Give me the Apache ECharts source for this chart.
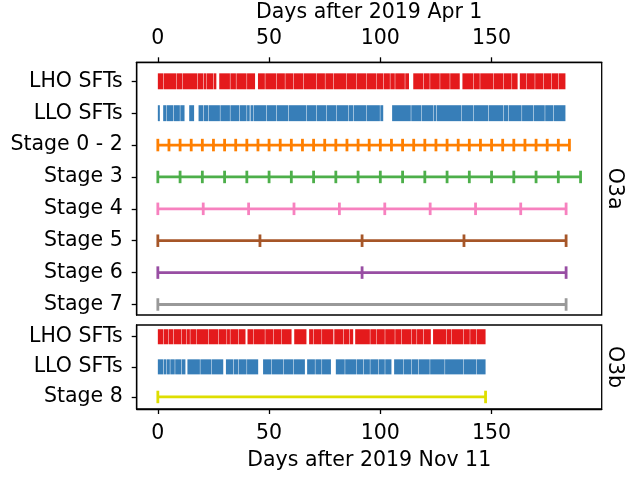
<!DOCTYPE html>
<html>
<head>
<meta charset="utf-8">
<script src="https://cdn.jsdelivr.net/npm/echarts@6/dist/echarts.min.js"></script>
<style>html,body{margin:0;padding:0;background:#fff}#c{width:625px;height:478px}</style>
</head>
<body>
<div id="c"></div>
<script>
// ---------------- data ----------------
const xTicks = [0, 50, 100, 150];
const o3aRows = ['LHO SFTs', 'LLO SFTs', 'Stage 0 - 2', 'Stage 3', 'Stage 4', 'Stage 5', 'Stage 6', 'Stage 7'];
const o3bRows = ['LHO SFTs', 'LLO SFTs', 'Stage 8'];
const xTitleTop = 'Days after 2019 Apr 1';
const xTitleBottom = 'Days after 2019 Nov 11';

// SFT coverage segments [start day, end day]
const lhoO3a = [[0,2.4],[2.6,8.4],[8.6,10.9],[11.1,17.8],[18.0,20.4],[20.6,21.9],[22.1,24.9],[25.1,26.3],[27.6,32.4],[32.6,35.1],[35.3,39.9],[40.1,43.7],[45.0,48.1],[48.3,53.3],[53.5,57.1],[57.3,60.8],[61.0,65.3],[65.5,71.3],[71.5,75.1],[75.3,78.8],[79.0,84.8],[85.0,89.3],[89.5,93.8],[94.0,98.3],[98.5,101.3],[101.5,104.3],[104.5,106.5],[106.7,111.0],[111.2,112.9],[114.8,119.3],[119.5,122.2],[122.4,126.7],[126.9,131.2],[131.4,135.7],[136.9,141.7],[141.9,144.7],[144.9,150.7],[150.9,155.2],[155.4,159.0],[159.2,161.7],[162.7,165.7],[165.9,169.4],[169.6,173.2],[173.4,176.9],[177.1,179.9],[180.1,183.2]];
const lloO3a = [[0,0.9],[2.4,3.9],[4.1,6.9],[7.1,9.9],[10.1,12.0],[14.1,16.3],[18.3,20.4],[20.6,22.6],[22.8,27.9],[28.1,32.4],[32.6,36.6],[36.8,39.9],[40.1,41.3],[41.65,42.8],[43.0,48.8],[49.0,53.3],[53.5,58.6],[58.8,66.8],[67.0,71.3],[71.5,75.8],[76.0,80.3],[80.5,85.5],[85.7,87.8],[88.0,93.8],[94.0,99.8],[100.0,101.3],[105.3,113.7],[113.9,118.5],[118.7,123.7],[123.9,125.2],[125.4,136.5],[136.7,141.7],[141.9,148.5],[148.7,155.2],[155.4,157.5],[157.7,163.5],[163.7,168.7],[168.9,173.9],[174.1,177.7],[177.9,183.2]];
const lhoO3b = [[0,2.4],[2.6,4.6],[4.8,6.9],[7.1,10.6],[10.8,12.9],[13.1,14.4],[14.6,17.4],[17.6,22.6],[22.8,27.1],[27.3,30.9],[31.1,32.4],[32.6,36.1],[36.3,39.4],[40.3,42.8],[43.0,48.1],[48.3,51.8],[52.0,55.6],[55.8,60.1],[61.3,66.8],[68.0,69.8],[70.0,73.6],[73.8,78.9],[79.3,83.3],[83.5,86.0],[86.2,87.8],[88.7,95.3],[95.5,98.3],[98.5,102.0],[102.2,106.5],[106.7,109.5],[109.7,114.0],[114.2,116.3],[116.5,119.3],[119.5,122.7],[123.7,129.7],[129.9,132.0],[132.2,137.2],[137.4,140.2],[140.4,143.2],[143.4,147.3]];
const lloO3b = [[0,2.4],[2.6,3.9],[4.1,5.4],[5.6,7.6],[7.8,10.6],[10.8,12.4],[13.3,18.9],[19.1,24.1],[24.3,29.4],[30.6,33.9],[34.1,36.1],[36.3,39.9],[40.1,45.1],[47.3,51.1],[51.3,56.3],[56.5,60.8],[61.0,66.1],[67.1,70.6],[70.8,73.6],[73.8,77.8],[80.0,84.0],[84.2,89.3],[89.5,92.3],[92.5,95.3],[95.5,99.0],[99.2,102.0],[102.2,105.0],[106.2,110.2],[110.4,114.0],[114.2,117.0],[117.2,122.2],[122.4,128.9],[129.1,137.2],[137.4,143.2],[143.4,147.3]];

// Stage segment boundaries (days)
const stage02 = [0,5,10,15,20,25,30,35,40,45,50,55,60,65,70,75,80,85,90,95,100,105,110,115,120,125,130,135,140,145,150,155,160,165,170,175,180,185];
const stage3 = [0,10,20,30,40,50,60,70,80,90,100,110,120,130,140,150,160,170,180,190];
const stage4 = [0,20.4,40.8,61.2,81.6,102.0,122.4,142.8,163.1,183.5];
const stage5 = [0,45.9,91.8,137.6,183.5];
const stage6 = [0,91.8,183.5];
const stage7 = [0,183.5];
const stage8 = [0,147.3];

// ---------------- styling ----------------
const FONT = 'DejaVu Sans';
const FS = 20.5;
const colors = {
  lho: '#e41a1c', llo: '#377eb8', s02: '#ff7f00', s3: '#4daf4a', s4: '#f781bf',
  s5: '#a65628', s6: '#984ea3', s7: '#999999', s8: '#dede00'
};

function barSeries(segs, row, color, xi, yi) {
  return {
    type: 'custom', xAxisIndex: xi, yAxisIndex: yi, silent: true,
    encode: { x: [0, 1], y: 2 },
    data: segs.map(s => [s[0], s[1], row]),
    renderItem: function (params, api) {
      const p0 = api.coord([api.value(0), api.value(2)]);
      const p1 = api.coord([api.value(1), api.value(2)]);
      const h = Math.abs(api.size([0, 0.5])[1]);
      return { type: 'rect', shape: { x: p0[0], y: p0[1] - h / 2, width: p1[0] - p0[0], height: h },
               style: { fill: color } };
    }
  };
}
function stageSeries(vals, row, color, xi, yi) {
  return {
    type: 'line', xAxisIndex: xi, yAxisIndex: yi, silent: true,
    data: vals.map(v => [v, row]),
    symbol: 'rect', symbolSize: [2.8, 12.5], showAllSymbol: true,
    lineStyle: { color: color, width: 2.8 }, itemStyle: { color: color },
    emphasis: { disabled: true }
  };
}

const rowsTopIdx = o3aRows.map((_, i) => i);
const rowsBotIdx = o3bRows.map((_, i) => i);

const axisCommonX = {
  type: 'value', min: -9.5, max: 199.5,
  splitLine: { show: false },
  nameMoveOverlap: false,
  axisLine: { show: true, onZero: false, lineStyle: { color: '#000', width: 1.3 } },
};

const option = {
  animation: false,
  backgroundColor: '#fff',
  textStyle: { fontFamily: FONT },
  grid: [
    { left: 136.7, top: 62.3, right: 23.3, height: 252.7, outerBoundsMode: 'none', containLabel: false, show: true, borderColor: '#000', borderWidth: 1.3, backgroundColor: 'transparent' },
    { left: 136.7, top: 325, right: 23.3, height: 84, outerBoundsMode: 'none', containLabel: false, show: true, borderColor: '#000', borderWidth: 1.3, backgroundColor: 'transparent' }
  ],
  xAxis: [
    Object.assign({}, axisCommonX, {
      gridIndex: 0, position: 'top',
      name: xTitleTop, nameLocation: 'middle', nameGap: 39.5,
      nameTextStyle: { fontSize: FS, color: '#000', fontFamily: FONT },
      axisTick: { show: true, customValues: xTicks, length: 5, lineStyle: { color: '#000', width: 1.3 } },
      axisLabel: { show: true, customValues: xTicks, fontSize: FS, color: '#000', fontFamily: FONT, margin: 13 }
    }),
    Object.assign({}, axisCommonX, {
      gridIndex: 1, position: 'bottom',
      name: xTitleBottom, nameLocation: 'middle', nameGap: 41,
      nameTextStyle: { fontSize: FS, color: '#000', fontFamily: FONT },
      axisTick: { show: true, customValues: xTicks, length: 5, lineStyle: { color: '#000', width: 1.3 } },
      axisLabel: { show: true, customValues: xTicks, fontSize: FS, color: '#000', fontFamily: FONT, margin: 14 }
    })
  ],
  yAxis: [
    {
      type: 'value', gridIndex: 0, inverse: true, min: -0.596, max: 7.33,
      splitLine: { show: false },
      axisLine: { show: true, onZero: false, lineStyle: { color: '#000', width: 1.3 } },
      axisTick: { show: true, customValues: rowsTopIdx, length: 5, lineStyle: { color: '#000', width: 1.3 } },
      axisLabel: { show: true, customValues: rowsTopIdx, formatter: v => o3aRows[Math.round(v)], fontSize: FS, color: '#000', fontFamily: FONT, margin: 14 }
    },
    {
      type: 'value', gridIndex: 1, inverse: true, min: -0.39, max: 2.40,
      splitLine: { show: false },
      axisLine: { show: true, onZero: false, lineStyle: { color: '#000', width: 1.3 } },
      axisTick: { show: true, customValues: rowsBotIdx, length: 5, lineStyle: { color: '#000', width: 1.3 } },
      axisLabel: { show: true, customValues: rowsBotIdx, formatter: v => o3bRows[Math.round(v)], fontSize: FS, color: '#000', fontFamily: FONT, margin: 14 }
    }
  ],
  graphic: [
    { type: 'text', x: 614, y: 188.6, rotation: -Math.PI / 2,
      style: { text: 'O3a', fontSize: FS, fontFamily: FONT, fill: '#000', align: 'center', verticalAlign: 'middle' } },
    { type: 'text', x: 614, y: 367, rotation: -Math.PI / 2,
      style: { text: 'O3b', fontSize: FS, fontFamily: FONT, fill: '#000', align: 'center', verticalAlign: 'middle' } }
  ],
  series: [
    barSeries(lhoO3a, 0, colors.lho, 0, 0),
    barSeries(lloO3a, 1, colors.llo, 0, 0),
    stageSeries(stage02, 2, colors.s02, 0, 0),
    stageSeries(stage3, 3, colors.s3, 0, 0),
    stageSeries(stage4, 4, colors.s4, 0, 0),
    stageSeries(stage5, 5, colors.s5, 0, 0),
    stageSeries(stage6, 6, colors.s6, 0, 0),
    stageSeries(stage7, 7, colors.s7, 0, 0),
    barSeries(lhoO3b, 0, colors.lho, 1, 1),
    barSeries(lloO3b, 1, colors.llo, 1, 1),
    stageSeries(stage8, 2, colors.s8, 1, 1)
  ]
};

const chart = echarts.init(document.getElementById('c'), null, { renderer: 'canvas' });
chart.setOption(option);
</script>
</body>
</html>
